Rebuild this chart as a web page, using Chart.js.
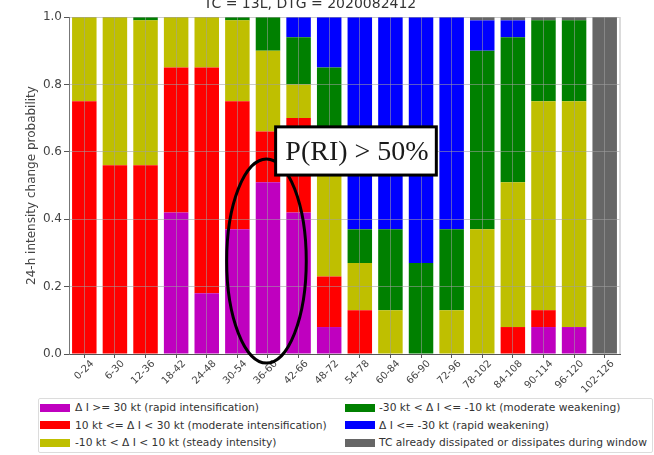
<!DOCTYPE html>
<html><head><meta charset="utf-8">
<script src="https://cdn.jsdelivr.net/npm/chart.js@4.4.0/dist/chart.umd.min.js"></script>
<style>
html,body{margin:0;padding:0;background:#fff;}
#wrap{position:relative;width:654px;height:455px;overflow:hidden;}
canvas{position:absolute;left:0;top:0;}
#legend{position:absolute;left:38px;top:398px;width:613px;height:53px;border:1px solid #dcdcdc;border-radius:2px;background:#fff;font-family:'DejaVu Sans';font-size:10.7px;color:#333;}
.item{position:absolute;height:17px;line-height:17px;white-space:nowrap;}
.sw{position:absolute;left:0;top:4.5px;width:30px;height:8px;}
.lt{position:absolute;top:0;}
</style></head><body>
<div id="wrap"><canvas id="c" width="654" height="455"></canvas><div id="legend"></div></div>
<script>
const titleText = 'TC = 13L, DTG = 2020082412';
const yAxisLabel = '24-h intensity change probability';
const categories = ['0-24','6-30','12-36','18-42','24-48','30-54','36-60','42-66','48-72','54-78','60-84','66-90','72-96','78-102','84-108','90-114','96-120','102-126'];
const yTickValues = [0, 0.2, 0.4, 0.6, 0.8, 1.0];
// stacked from bottom
const rapidIntens   = [0,0,0,0.42,0.18,0.37,0.51,0.42,0.08,0,0,0,0,0,0,0.08,0.08,0];
const moderateIntens= [0.75,0.56,0.56,0.43,0.67,0.38,0.15,0.28,0.15,0.13,0,0,0,0,0.08,0.05,0,0];
const steady        = [0.25,0.44,0.43,0.15,0.15,0.24,0.24,0.10,0.39,0.14,0.13,0,0.13,0.37,0.43,0.62,0.67,0];
const moderateWeak  = [0,0,0.01,0,0,0.01,0.10,0.14,0.23,0.10,0.24,0.27,0.24,0.53,0.43,0.24,0.24,0];
const rapidWeak     = [0,0,0,0,0,0,0,0.06,0.15,0.63,0.63,0.73,0.63,0.09,0.05,0,0,0];
const dissipated    = [0,0,0,0,0,0,0,0,0,0,0,0,0,0.01,0.01,0.01,0.01,1.0];
const seriesLabels = [
  'Δ I >= 30 kt (rapid intensification)',
  '10 kt <= Δ I < 30 kt (moderate intensification)',
  '-10 kt < Δ I < 10 kt (steady intensity)',
  '-30 kt < Δ I <= -10 kt (moderate weakening)',
  'Δ I <= -30 kt (rapid weakening)',
  'TC already dissipated or dissipates during window'
];
const seriesColors = ['#bf00bf','#ff0000','#bfbf00','#008000','#0000ff','#666666'];
const seriesData = [rapidIntens, moderateIntens, steady, moderateWeak, rapidWeak, dissipated];

const annotText = 'P(RI) > 50%';

const datasets = seriesData.map((d,i)=>({
  label: seriesLabels[i], data: d, backgroundColor: seriesColors[i],
  barPercentage: 0.8, categoryPercentage: 1.0, borderWidth: 0
}));

const annotPlugin = {
  id: 'annot',
  afterDraw(chart){
    const c = chart.ctx, xs = chart.scales.x, ys = chart.scales.y, a = chart.chartArea;
    c.save();
    c.strokeStyle = '#cfcfcf'; c.lineWidth = 1.5;
    c.beginPath(); c.moveTo(a.right, a.top); c.lineTo(a.right, a.bottom); c.stroke();
    const slot = xs.getPixelForValue(1) - xs.getPixelForValue(0);
    const cx = xs.getPixelForValue(6) - 1.5;
    const cy = ys.getPixelForValue(0.276);
    const ry = ys.getPixelForValue(0) - ys.getPixelForValue(0.303);
    c.strokeStyle = '#000'; c.lineWidth = 3;
    c.beginPath(); c.ellipse(cx, cy, slot*1.3, ry, 0, 0, Math.PI*2); c.stroke();
    const bx0 = xs.getPixelForValue(6) + slot*0.25, bx1 = xs.getPixelForValue(9) + slot*2.5;
    const by0 = ys.getPixelForValue(0.674), by1 = ys.getPixelForValue(0.531);
    c.fillStyle = '#fff'; c.fillRect(bx0, by0, bx1-bx0, by1-by0);
    c.lineWidth = 3; c.strokeRect(bx0, by0, bx1-bx0, by1-by0);
    c.fillStyle = '#1a1a1a'; c.font = '28px "Liberation Serif"';
    c.textAlign = 'center'; c.textBaseline = 'middle';
    c.fillText(annotText, (bx0+bx1)/2 + 1, (by0+by1)/2 + 2);
    c.restore();
  }
};

new Chart(document.getElementById('c'), {
  type: 'bar',
  data: { labels: categories, datasets },
  plugins: [annotPlugin],
  options: {
    responsive: false, animation: false,
    layout: { padding: { left: 0, right: 34, top: 0, bottom: 61 } },
    plugins: {
      legend: { display: false }, tooltip: { enabled: false },
      title: { display: true, text: titleText, color: '#333',
        font: { family: 'DejaVu Sans', size: 14, weight: 'normal' },
        padding: { top: -4, bottom: 4.2 } }
    },
    scales: {
      x: {
        stacked: true, offset: true,
        grid: { z: 1, offset: false, color: 'rgba(160,160,160,0.55)', tickColor: '#555', tickLength: 4 },
        border: { color: '#555', z: 2 },
        ticks: { autoSkip: false, maxRotation: 45, minRotation: 45, labelOffset: 8, padding: 0,
          color: '#444', font: { family: 'DejaVu Sans', size: 10 } },
        afterFit(s){ s.height = 40; }
      },
      y: {
        stacked: true, min: 0, max: 1,
        afterBuildTicks(s){ s.ticks = yTickValues.map(v=>({value:v})); },
        grid: { z: 1, color: 'rgba(160,160,160,0.55)', tickColor: '#555', tickLength: 5 },
        border: { color: '#777', z: 2 },
        ticks: { padding: 2, color: '#444', font: { family: 'DejaVu Sans', size: 12 },
          callback: v => Number(v).toFixed(1) },
        title: { display: true, text: yAxisLabel, color: '#444',
          font: { family: 'DejaVu Sans', size: 12 }, padding: { top: 25, bottom: 0 } },
        afterFit(s){ s.width = 69; }
      }
    }
  }
});

const leg = document.getElementById('legend');
const rowCenters = [8.5, 26.3, 43.8];
const colSw = [1, 306], colTx = [36, 340];
seriesLabels.forEach((lab, i) => {
  const col = Math.floor(i/3), row = i % 3;
  const it = document.createElement('div'); it.className = 'item';
  it.style.left = colSw[col] + 'px'; it.style.top = (rowCenters[row]-8.5) + 'px';
  const sw = document.createElement('div'); sw.className = 'sw'; sw.style.background = seriesColors[i];
  const tx = document.createElement('div'); tx.className = 'lt'; tx.style.left = (colTx[col]-colSw[col]) + 'px';
  tx.textContent = lab;
  it.appendChild(sw); it.appendChild(tx); leg.appendChild(it);
});
</script>
</body></html>
